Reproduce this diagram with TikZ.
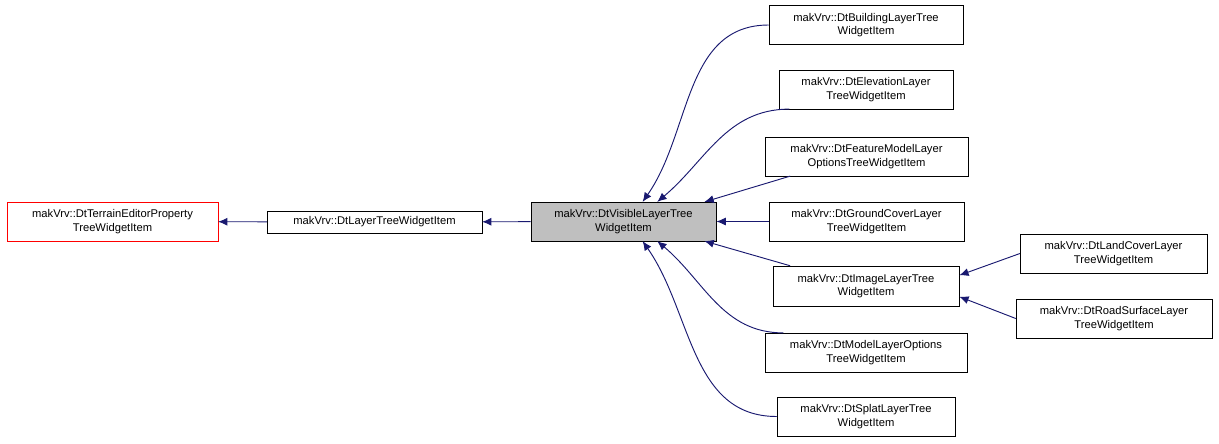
\documentclass[tikz,border=0pt]{standalone}
\usepackage{fontspec}
\setmainfont{Liberation Sans}
\usetikzlibrary{arrows.meta,positioning}
\tikzset{
  cls/.style={draw=black,fill=white,align=center,inner sep=1pt,font=\fontsize{8.4}{10}\selectfont},
  inh/.style={draw=navy,line width=0.7pt,{Latex[length=7pt,width=6pt]}-},
}
\definecolor{navy}{HTML}{191970}
\begin{document}
\begin{tikzpicture}[x=0.75pt,y=-0.75pt]
\useasboundingbox (0,0) rectangle (1219,443);
\node[cls,draw=red,minimum width=158pt,minimum height=29pt] (prop) at (112.5,221.5) {makVrv::DtTerrainEditorProperty\\TreeWidgetItem};
\node[cls,minimum width=161pt,minimum height=16.5pt] (layer) at (374.5,222) {makVrv::DtLayerTreeWidgetItem};
\node[cls,fill={rgb,255:red,191;green,191;blue,191},minimum width=139pt,minimum height=29pt] (vis) at (623.5,221.5) {makVrv::DtVisibleLayerTree\\WidgetItem};
\node[cls,minimum width=145.5pt,minimum height=29pt] (bld) at (866,25) {makVrv::DtBuildingLayerTree\\WidgetItem};
\node[cls,minimum width=130.5pt,minimum height=29pt] (elev) at (866,89.5) {makVrv::DtElevationLayer\\TreeWidgetItem};
\node[cls,minimum width=152pt,minimum height=29pt] (feat) at (866.5,156.5) {makVrv::DtFeatureModelLayer\\OptionsTreeWidgetItem};
\node[cls,minimum width=146pt,minimum height=29pt] (grnd) at (866.5,221.5) {makVrv::DtGroundCoverLayer\\TreeWidgetItem};
\node[cls,minimum width=139.5pt,minimum height=30pt] (img) at (866,286) {makVrv::DtImageLayerTree\\WidgetItem};
\node[cls,minimum width=151.5pt,minimum height=29pt] (mdl) at (866,352.5) {makVrv::DtModelLayerOptions\\TreeWidgetItem};
\node[cls,minimum width=133.5pt,minimum height=29pt] (splt) at (866,416.5) {makVrv::DtSplatLayerTree\\WidgetItem};
\node[cls,minimum width=140pt,minimum height=29pt] (land) at (1113.5,253.5) {makVrv::DtLandCoverLayer\\TreeWidgetItem};
\node[cls,minimum width=147pt,minimum height=29pt] (road) at (1114,318.5) {makVrv::DtRoadSurfaceLayer\\TreeWidgetItem};

\draw[inh] (prop) -- (layer);
\draw[inh] (layer) -- (vis);
\draw[inh] ([xshift=84pt]vis.north west) to[out=55,in=180] (bld.west);
\draw[inh] ([xshift=95pt]vis.north west) to[out=40,in=180] ([xshift=8pt]elev.south west);
\draw[inh] ([xshift=-9pt]vis.north east) -- ([xshift=19pt]feat.south west);
\draw[inh] (vis) -- (grnd);
\draw[inh] ([xshift=-9pt]vis.south east) -- ([xshift=13pt]img.north west);
\draw[inh] ([xshift=95pt]vis.south west) to[out=-40,in=180] ([xshift=14pt]mdl.north west);
\draw[inh] ([xshift=84pt]vis.south west) to[out=-55,in=180] (splt.west);
\draw[inh] ([yshift=8pt]img.east) -- (land.west);
\draw[inh] ([yshift=-8pt]img.east) -- (road.west);
\end{tikzpicture}
\end{document}
